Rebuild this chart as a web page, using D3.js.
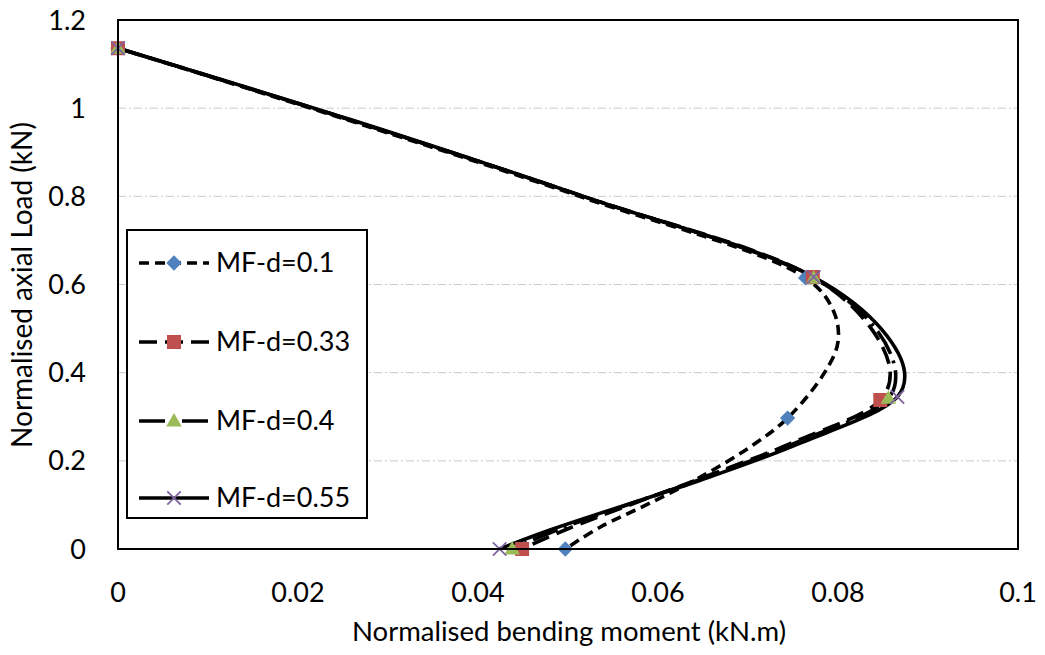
<!DOCTYPE html>
<html>
<head>
<meta charset="utf-8">
<script src="https://cdn.jsdelivr.net/npm/d3@7"></script>
<style>
  body { margin: 0; background: #fff; }
  text { font-family: Lato, "Liberation Sans", sans-serif; fill: #000; }
</style>
</head>
<body>
<div id="chart"></div>
<script>
// series: [moment, axial load]
var seriesNames = ["MF-d=0.1", "MF-d=0.33", "MF-d=0.4", "MF-d=0.55"];
var mf01 = [[0, 1.136], [0.026, 0.970], [0.0517, 0.797], [0.0764, 0.615], [0.0795, 0.54],
            [0.0800, 0.47], [0.0785, 0.40], [0.0744, 0.297], [0.0702, 0.231], [0.0647, 0.163],
            [0.0591, 0.104], [0.0536, 0.05], [0.0497, 0]];
var mf033 = [[0, 1.136], [0.026, 0.972], [0.0517, 0.80], [0.0772, 0.617], [0.0838, 0.497],
             [0.0858, 0.40], [0.0847, 0.338], [0.0748, 0.24], [0.0647, 0.16], [0.050, 0.046],
             [0.0449, 0]];
var mf04 = [[0, 1.136], [0.026, 0.972], [0.0517, 0.80], [0.0773, 0.615], [0.0843, 0.497],
            [0.0864, 0.40], [0.0856, 0.342], [0.0752, 0.24], [0.0647, 0.158], [0.049, 0.045],
            [0.0438, 0]];
var mf055 = [[0, 1.136], [0.026, 0.973], [0.0517, 0.80], [0.0773, 0.617], [0.0849, 0.497],
             [0.0874, 0.40], [0.0866, 0.345], [0.0758, 0.24], [0.0647, 0.156], [0.048, 0.043],
             [0.0424, 0]];
// which points carry a marker
var mf01Markers = [0, 3, 7, 12];
var mfMarkers = [0, 3, 6, 10];
var xTicks = [0, 0.02, 0.04, 0.06, 0.08, 0.1];
var yTicks = [0, 0.2, 0.4, 0.6, 0.8, 1, 1.2];

var svgWidth = 1045, svgHeight = 655;
var margin = { top: 20, right: 27, bottom: 106, left: 118 };
var width = svgWidth - margin.left - margin.right;
var height = svgHeight - margin.top - margin.bottom;

var svg = d3.select("#chart").append("svg")
  .attr("width", svgWidth)
  .attr("height", svgHeight);

var chartGroup = svg.append("g")
  .attr("transform", `translate(${margin.left}, ${margin.top})`);

var x = d3.scaleLinear().domain([0, 0.1]).range([0, width]);
var y = d3.scaleLinear().domain([0, 1.2]).range([height, 0]);

// gridlines
chartGroup.selectAll(".grid")
  .data(yTicks.filter(d => d > 0 && d < 1.2))
  .enter().append("line")
  .attr("x1", 0).attr("x2", width)
  .attr("y1", d => y(d)).attr("y2", d => y(d))
  .attr("stroke", "#c8c8c8")
  .attr("stroke-width", 1)
  .attr("stroke-dasharray", "8,3,2,3");

// tick labels
var fmt = d => String(d);
chartGroup.selectAll(".xt")
  .data(xTicks).enter().append("text")
  .attr("x", d => x(d)).attr("y", 582)
  .attr("text-anchor", "middle")
  .style("font-size", "27px")
  .text(fmt);

chartGroup.selectAll(".yt")
  .data(yTicks).enter().append("text")
  .attr("x", -32).attr("y", d => y(d) + 9.5)
  .attr("text-anchor", "end")
  .style("font-size", "27px")
  .text(fmt);

// axis titles
svg.append("text")
  .attr("x", 569).attr("y", 641)
  .attr("text-anchor", "middle")
  .style("font-size", "27.5px")
  .text("Normalised bending moment (kN.m)");

svg.append("text")
  .attr("transform", "translate(32, 285) rotate(-90)")
  .attr("text-anchor", "middle")
  .style("font-size", "28px")
  .text("Normalised axial Load (kN)");

var dashes = ["10,6", "18,8", "26,7,3,7", null];
var colors = ["#4F81BD", "#C0504D", "#9BBB59", "#8064A2"];
var allData = [mf01, mf033, mf04, mf055];
var allMarkers = [mf01Markers, mfMarkers, mfMarkers, mfMarkers];

var line = d3.line()
  .x(d => x(d[0]))
  .y(d => y(d[1]))
  .curve(d3.curveCatmullRom.alpha(0.5));

chartGroup.selectAll(".series")
  .data(allData).enter().append("path")
  .attr("d", line)
  .attr("fill", "none")
  .attr("stroke", "#000")
  .attr("stroke-width", 3.6)
  .attr("stroke-dasharray", (d, i) => dashes[i]);

function drawMarker(g, i, cx, cy) {
  if (i === 0) {
    g.append("path")
      .attr("d", d3.symbol(d3.symbolDiamond2, 150)())
      .attr("transform", `translate(${cx},${cy})`)
      .attr("fill", colors[0]);
  } else if (i === 1) {
    g.append("rect")
      .attr("x", cx - 7).attr("y", cy - 7)
      .attr("width", 14).attr("height", 14)
      .attr("fill", colors[1]);
  } else if (i === 2) {
    g.append("path")
      .attr("d", d3.symbol(d3.symbolTriangle, 105)())
      .attr("transform", `translate(${cx},${cy + 1})`)
      .attr("fill", colors[2]);
  } else {
    g.append("path")
      .attr("d", d3.symbol(d3.symbolTimes, 120)())
      .attr("transform", `translate(${cx},${cy})`)
      .attr("fill", "none")
      .attr("stroke", colors[3])
      .attr("stroke-width", 1.8);
  }
}

// markers
var markerGroup = chartGroup.append("g");
allData.forEach(function(series, i) {
  allMarkers[i].forEach(function(k) {
    drawMarker(markerGroup, i, x(series[k][0]), y(series[k][1]));
  });
});

// plot frame
chartGroup.append("rect")
  .attr("x", 0).attr("y", 0)
  .attr("width", width).attr("height", height)
  .attr("fill", "none")
  .attr("stroke", "#000")
  .attr("stroke-width", 2);

// legend
var legend = svg.append("g").attr("transform", "translate(127, 230)");
legend.append("rect")
  .attr("x", 0).attr("y", 0)
  .attr("width", 240).attr("height", 288)
  .attr("fill", "#fff")
  .attr("stroke", "#000")
  .attr("stroke-width", 2);

var legendY = [33, 112, 191, 268];
seriesNames.forEach(function(name, i) {
  var ly = legendY[i];
  legend.append("line")
    .attr("x1", 12).attr("x2", 82)
    .attr("y1", ly).attr("y2", ly)
    .attr("stroke", "#000")
    .attr("stroke-width", 3.6)
    .attr("stroke-dasharray", dashes[i]);
  drawMarker(legend, i, 47, ly);
  legend.append("text")
    .attr("x", 89).attr("y", ly + 9)
    .style("font-size", "27px")
    .text(name);
});
</script>
</body>
</html>
